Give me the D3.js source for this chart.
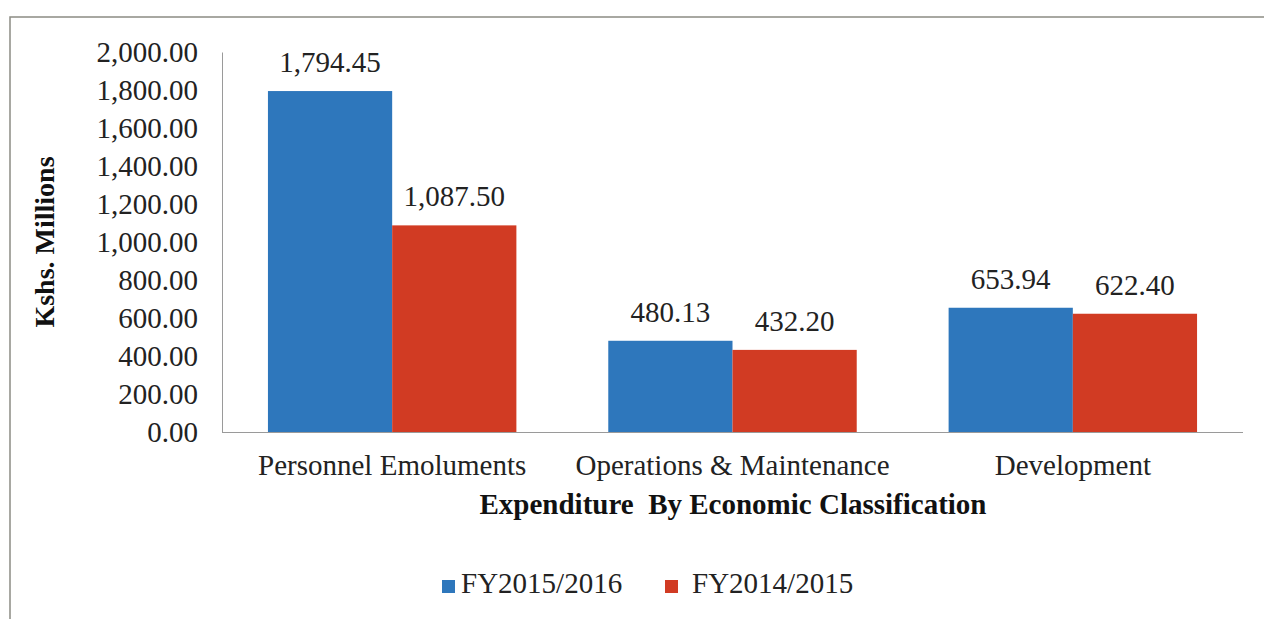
<!DOCTYPE html>
<html>
<head>
<meta charset="utf-8">
<script src="https://cdn.jsdelivr.net/npm/d3@7"></script>
<style>
  body { margin: 0; background: #fff; }
  svg { display: block; font-family: "Liberation Serif", "Times New Roman", serif; }
</style>
</head>
<body>
<script>
const categories = ["Personnel Emoluments", "Operations & Maintenance", "Development"];
const seriesNames = ["FY2015/2016", "FY2014/2015"];
const fy2016 = [1794.45, 480.13, 653.94];
const fy2015 = [1087.50, 432.20, 622.40];
const yTicks = [0, 200, 400, 600, 800, 1000, 1200, 1400, 1600, 1800, 2000];
const colors = ["#2e77bc", "#d13b23"];

const WIDTH = 1264, HEIGHT = 619;
const margin = {left: 222, right: 21, top: 52, bottom: 187};

const svg = d3.select('body').append('svg')
  .attr('width', WIDTH)
  .attr('height', HEIGHT);

// outer frame
svg.append('rect')
  .attr('x', 10).attr('y', 17)
  .attr('width', 1300).attr('height', 700)
  .attr('fill', 'none')
  .attr('stroke', '#8c8c84')
  .attr('stroke-width', 1.5);

const x = d3.scaleBand()
  .domain(categories)
  .range([margin.left, WIDTH - margin.right])
  .paddingInner(0.27)
  .paddingOuter(0.135);

const xSub = d3.scaleBand()
  .domain(seriesNames)
  .range([0, x.bandwidth()]);

const y = d3.scaleLinear()
  .domain([0, 2000])
  .range([HEIGHT - margin.bottom, margin.top]);

const fmt = d3.format(',.2f');

// y axis
const yAxis = svg.append('g')
  .attr('transform', 'translate(' + margin.left + ',0)')
  .call(d3.axisLeft(y).tickValues(yTicks).tickSize(0).tickPadding(24).tickFormat(fmt));
yAxis.select('.domain').attr('stroke', '#9a9a9a');
yAxis.selectAll('text')
  .attr('font-size', 29)
  .attr('font-family', '"Liberation Serif", serif')
  .attr('fill', '#222');

// x axis line
const xAxis = svg.append('g')
  .attr('transform', 'translate(0,' + y(0) + ')')
  .call(d3.axisBottom(x).tickSize(0).tickPadding(22));
xAxis.select('.domain').attr('stroke', '#9a9a9a').attr('d', 'M' + margin.left + ',0.5H' + (WIDTH - margin.right));
xAxis.selectAll('text')
  .attr('font-size', 29)
  .attr('font-family', '"Liberation Serif", serif')
  .attr('fill', '#222');

const rows = categories.map(function(c, i) {
  return {cat: c, vals: [fy2016[i], fy2015[i]]};
});

const groups = svg.append('g').selectAll('g')
  .data(rows)
  .enter().append('g')
  .attr('transform', function(d) { return 'translate(' + x(d.cat) + ',0)'; });

groups.selectAll('rect')
  .data(function(d) { return d.vals.map(function(v, j) { return {name: seriesNames[j], v: v, j: j}; }); })
  .enter().append('rect')
  .attr('x', function(d) { return xSub(d.name); })
  .attr('y', function(d) { return y(d.v); })
  .attr('width', xSub.bandwidth())
  .attr('height', function(d) { return y(0) - y(d.v); })
  .attr('fill', function(d) { return colors[d.j]; });

groups.selectAll('text')
  .data(function(d) { return d.vals.map(function(v, j) { return {name: seriesNames[j], v: v}; }); })
  .enter().append('text')
  .attr('x', function(d) { return xSub(d.name) + xSub.bandwidth() / 2; })
  .attr('y', function(d) { return y(d.v) - 19; })
  .attr('text-anchor', 'middle')
  .attr('font-size', 29)
  .attr('fill', '#222')
  .text(function(d) { return fmt(d.v); });

// axis titles
svg.append('text')
  .attr('transform', 'translate(54,' + ((margin.top + y(0)) / 2) + ') rotate(-90)')
  .attr('text-anchor', 'middle')
  .attr('font-size', 28)
  .attr('font-weight', 'bold')
  .attr('fill', '#111')
  .text('Kshs. Millions');

svg.append('text')
  .attr('x', 733)
  .attr('y', 514)
  .attr('text-anchor', 'middle')
  .attr('font-size', 29)
  .attr('font-weight', 'bold')
  .attr('fill', '#111')
  .attr('xml:space', 'preserve')
  .style('white-space', 'pre')
  .text('Expenditure  By Economic Classification');

// legend
const legendPos = [{sx: 442, tx: 461}, {sx: 665, tx: 692}];
const legend = svg.append('g').selectAll('g')
  .data(seriesNames)
  .enter().append('g');
legend.append('rect')
  .attr('x', function(d, i) { return legendPos[i].sx; })
  .attr('y', 580)
  .attr('width', 13).attr('height', 13)
  .attr('fill', function(d, i) { return colors[i]; });
legend.append('text')
  .attr('x', function(d, i) { return legendPos[i].tx; })
  .attr('y', 593)
  .attr('font-size', 29)
  .attr('fill', '#222')
  .text(function(d) { return d; });
</script>
</body>
</html>
